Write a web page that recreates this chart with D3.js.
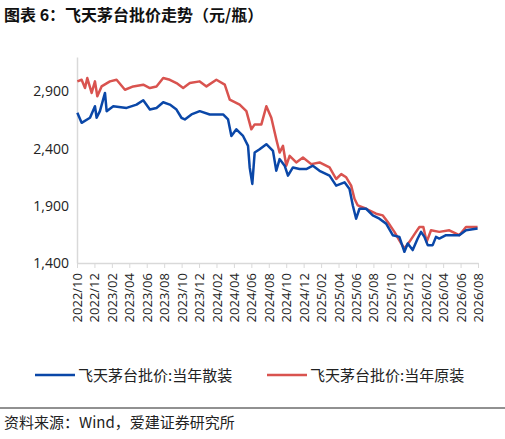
<!DOCTYPE html>
<html><head><meta charset="utf-8">
<script src="https://cdn.jsdelivr.net/npm/d3@7"></script>
<style>body{margin:0;background:#fff}text{font-family:"Noto Sans CJK SC","Noto Sans",sans-serif}</style>
</head><body><svg id="c" width="505" height="439"></svg>
<script>
const tickLabels=["2022/10","2022/12","2023/02","2023/04","2023/06","2023/08","2023/10","2023/12","2024/02","2024/04","2024/06","2024/08","2024/10","2024/12","2025/02","2025/04","2025/06","2025/08","2025/10","2025/12","2026/02","2026/04","2026/06","2026/08"];
const seriesNames=["飞天茅台批价:当年散装","飞天茅台批价:当年原装"];
const looseMonth=[0.04,0.53,1.49,2.06,2.25,2.63,3.21,3.4,4.16,5.69,6.83,7.6,8.36,9.12,9.89,10.65,11.41,11.98,12.37,13.13,14.08,15.23,16.76,17.33,17.71,18.28,19.05,19.62,19.81,20.11,20.38,20.95,21.72,22.48,22.86,23.24,23.82,24.2,24.77,25.53,26.3,27.06,27.82,28.97,29.73,30.69,31.26,31.64,32.02,32.4,33.17,33.93,34.69,35.46,36.22,36.98,37.56,37.94,38.51,39.08,39.47,39.85,40.23,40.8,41.18,41.56,42.33,43.09,43.85,44.62,45.95];
const looseValue=[2712,2625,2669,2770,2669,2727,2886,2727,2770,2755,2784,2822,2741,2755,2805,2784,2741,2669,2654,2698,2727,2698,2698,2654,2510,2568,2510,2423,2235,2091,2365,2394,2438,2380,2206,2308,2250,2163,2235,2221,2221,2250,2206,2163,2076,2105,2047,1903,1787,1874,1874,1816,1787,1744,1643,1628,1498,1571,1513,1614,1672,1628,1556,1556,1628,1614,1643,1643,1643,1686,1701];
const boxMonth=[0.04,0.53,0.92,1.18,1.68,2.06,2.33,2.82,3.78,4.54,5.5,6.45,7.6,8.36,9.12,9.89,10.65,11.41,12.18,12.94,14.08,14.85,15.99,16.95,17.52,18.66,19.43,20.0,20.38,21.15,21.72,22.29,22.86,23.24,23.63,24.01,24.39,25.15,25.92,26.87,27.82,28.97,29.73,30.31,30.88,31.45,31.83,32.21,33.17,34.31,35.08,35.65,36.41,37.18,37.56,38.13,38.89,39.28,39.73,40.11,40.61,41.56,42.71,43.85,44.62,45.95];
const boxValue=[2987,3001,2929,3016,2886,2987,2857,2943,2987,3001,2914,2943,2958,2929,2943,3016,3001,2972,2929,2972,2987,2943,3001,2958,2828,2784,2727,2568,2611,2611,2770,2669,2481,2365,2423,2250,2336,2279,2322,2264,2279,2235,2134,2177,2149,2076,1961,1903,1874,1831,1816,1758,1672,1571,1527,1585,1672,1715,1715,1585,1686,1672,1686,1643,1715,1715];
const yTicks=[1400,1900,2400,2900];

const svg=d3.select("#c");
const L=77,R=478,T=57,B=263;
const x=d3.scaleLinear().domain([0,46]).range([L,R]);
const y=d3.scaleLinear().domain([1400,3200]).range([B,T]);
svg.append("text").attr("x",4).attr("y",21).attr("font-size",16).attr("font-weight","bold").attr("fill","#111").text("图表 6：飞天茅台批价走势（元/瓶）");
const ya=svg.append("g").attr("transform",`translate(${L},0)`).call(d3.axisLeft(y).tickValues(yTicks).tickSize(0).tickPadding(8).tickFormat(d3.format(",")));
ya.select(".domain").attr("stroke","#d9d9d9").attr("stroke-width",1.5);
ya.selectAll("text").attr("font-size",14).attr("fill","#222").style("font-family","'Open Sans','Noto Sans',sans-serif");
const xa=svg.append("g").attr("transform",`translate(0,${B})`).call(d3.axisBottom(x).tickValues(d3.range(0,47,2)).tickSize(5).tickSizeOuter(0).tickFormat((d,i)=>tickLabels[i]));
xa.select(".domain").attr("stroke","#d9d9d9").attr("stroke-width",1.5);
xa.selectAll("line").attr("stroke","#d9d9d9");
xa.selectAll("text").attr("font-size",13).attr("fill","#222").style("font-family","'Open Sans','Noto Sans',sans-serif")
 .attr("transform","rotate(-90)").attr("text-anchor","end").attr("x",-10).attr("y",0).attr("dy","0.35em");
const line=d3.line().x(d=>x(d[0])).y(d=>y(d[1]));
const colors=["#0a47a8","#d9534f"];
svg.append("path").datum(boxMonth.map((m,i)=>[m,boxValue[i]])).attr("d",line).attr("fill","none").attr("stroke",colors[1]).attr("stroke-width",2.5).attr("stroke-linejoin","round");
svg.append("path").datum(looseMonth.map((m,i)=>[m,looseValue[i]])).attr("d",line).attr("fill","none").attr("stroke",colors[0]).attr("stroke-width",2.5).attr("stroke-linejoin","round");
const lg=[[35,75,78],[267,307,310]];
seriesNames.forEach((n,i)=>{
 svg.append("line").attr("x1",lg[i][0]).attr("x2",lg[i][1]).attr("y1",375).attr("y2",375).attr("stroke",colors[i]).attr("stroke-width",2.5);
 svg.append("text").attr("x",lg[i][2]).attr("y",380.5).attr("font-size",15).attr("fill","#222").text(n);
});
svg.append("line").attr("x1",0).attr("x2",505).attr("y1",408).attr("y2",408).attr("stroke","#222").attr("stroke-width",1);
svg.append("text").attr("x",4).attr("y",428).attr("font-size",15).attr("fill","#222").text("资料来源：Wind，爱建证券研究所");
</script></body></html>
